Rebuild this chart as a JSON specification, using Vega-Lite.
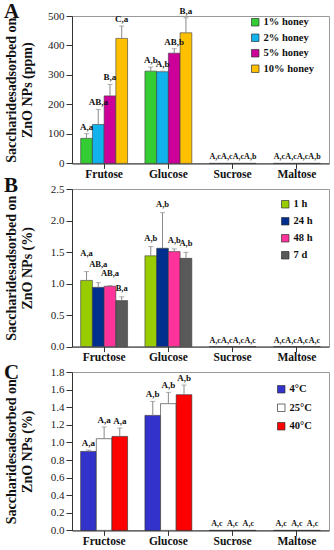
{
  "$schema": "https://vega.github.io/schema/vega-lite/v6.json",
  "padding": {"left": 3, "top": 0, "right": 0, "bottom": 0},
  "bounds": "flush",
  "spacing": 25,
  "background": "white",
  "datasets": {
    "A": [
      {"sugar": "Frutose", "group": "1% honey", "value": 85, "upper": 101, "sig": "A,a"},
      {"sugar": "Frutose", "group": "2% honey", "value": 132, "upper": 183, "sig": "AB,a"},
      {"sugar": "Frutose", "group": "5% honey", "value": 229, "upper": 268, "sig": "B,a"},
      {"sugar": "Frutose", "group": "10% honey", "value": 424, "upper": 466, "sig": "C,a"},
      {"sugar": "Glucose", "group": "1% honey", "value": 313, "upper": 327, "sig": "A,b"},
      {"sugar": "Glucose", "group": "2% honey", "value": 311, "upper": 313, "sig": "A,b"},
      {"sugar": "Glucose", "group": "5% honey", "value": 374, "upper": 389, "sig": "AB,b"},
      {"sugar": "Glucose", "group": "10% honey", "value": 443, "upper": 494, "sig": "B,a"},
      {"sugar": "Sucrose", "group": "1% honey", "value": 0, "upper": 0, "sig": "A,c"},
      {"sugar": "Sucrose", "group": "2% honey", "value": 0, "upper": 0, "sig": "A,c"},
      {"sugar": "Sucrose", "group": "5% honey", "value": 0, "upper": 0, "sig": "A,c"},
      {"sugar": "Sucrose", "group": "10% honey", "value": 0, "upper": 0, "sig": "A,b"},
      {"sugar": "Maltose", "group": "1% honey", "value": 0, "upper": 0, "sig": "A,c"},
      {"sugar": "Maltose", "group": "2% honey", "value": 0, "upper": 0, "sig": "A,c"},
      {"sugar": "Maltose", "group": "5% honey", "value": 0, "upper": 0, "sig": "A,c"},
      {"sugar": "Maltose", "group": "10% honey", "value": 0, "upper": 0, "sig": "A,b"}
    ],
    "B": [
      {"sugar": "Fructose", "group": "1 h", "value": 1.05, "upper": 1.19, "sig": "A,a"},
      {"sugar": "Fructose", "group": "24 h", "value": 0.94, "upper": 1.015, "sig": "AB,a"},
      {"sugar": "Fructose", "group": "48 h", "value": 0.957, "upper": 0.968, "sig": "AB,a"},
      {"sugar": "Fructose", "group": "7 d", "value": 0.73, "upper": 0.79, "sig": "B,a"},
      {"sugar": "Glucose", "group": "1 h", "value": 1.44, "upper": 1.586, "sig": "A,b"},
      {"sugar": "Glucose", "group": "24 h", "value": 1.56, "upper": 2.125, "sig": "A,b"},
      {"sugar": "Glucose", "group": "48 h", "value": 1.507, "upper": 1.55, "sig": "A,b"},
      {"sugar": "Glucose", "group": "7 d", "value": 1.4, "upper": 1.496, "sig": "A,b"},
      {"sugar": "Sucrose", "group": "1 h", "value": 0, "upper": 0, "sig": "A,c"},
      {"sugar": "Sucrose", "group": "24 h", "value": 0, "upper": 0, "sig": "A,c"},
      {"sugar": "Sucrose", "group": "48 h", "value": 0, "upper": 0, "sig": "A,c"},
      {"sugar": "Sucrose", "group": "7 d", "value": 0, "upper": 0, "sig": "A,c"},
      {"sugar": "Maltose", "group": "1 h", "value": 0, "upper": 0, "sig": "A,c"},
      {"sugar": "Maltose", "group": "24 h", "value": 0, "upper": 0, "sig": "A,c"},
      {"sugar": "Maltose", "group": "48 h", "value": 0, "upper": 0, "sig": "A,c"},
      {"sugar": "Maltose", "group": "7 d", "value": 0, "upper": 0, "sig": "A,c"}
    ],
    "C": [
      {"sugar": "Fructose", "group": "4°C", "value": 0.898, "upper": 0.913, "sig": "A,a"},
      {"sugar": "Fructose", "group": "25°C", "value": 1.042, "upper": 1.175, "sig": "A,a"},
      {"sugar": "Fructose", "group": "40°C", "value": 1.068, "upper": 1.163, "sig": "A,a"},
      {"sugar": "Glucose", "group": "4°C", "value": 1.307, "upper": 1.466, "sig": "A,b"},
      {"sugar": "Glucose", "group": "25°C", "value": 1.44, "upper": 1.568, "sig": "A,b"},
      {"sugar": "Glucose", "group": "40°C", "value": 1.542, "upper": 1.652, "sig": "A,b"},
      {"sugar": "Sucrose", "group": "4°C", "value": 0, "upper": 0, "sig": "A,c"},
      {"sugar": "Sucrose", "group": "25°C", "value": 0, "upper": 0, "sig": "A,c"},
      {"sugar": "Sucrose", "group": "40°C", "value": 0, "upper": 0, "sig": "A,c"},
      {"sugar": "Maltose", "group": "4°C", "value": 0, "upper": 0, "sig": "A,c"},
      {"sugar": "Maltose", "group": "25°C", "value": 0, "upper": 0, "sig": "A,c"},
      {"sugar": "Maltose", "group": "40°C", "value": 0, "upper": 0, "sig": "A,c"}
    ]
  },
  "resolve": {"scale": {"color": "independent", "x": "independent", "y": "independent", "xOffset": "independent"}},
  "vconcat": [
    {
      "width": 257, "height": 147.4,
      "title": {"text": "A", "anchor": "start", "frame": "bounds", "baseline": "bottom", "offset": -36},
      "data": {"name": "A"},
      "encoding": {
        "x": {"field": "sugar", "type": "nominal", "sort": ["Frutose", "Glucose", "Sucrose", "Maltose"], "scale": {"paddingInner": 0.27, "paddingOuter": 0.135}, "axis": {"title": null}},
        "xOffset": {"field": "group", "type": "nominal", "sort": ["1% honey", "2% honey", "5% honey", "10% honey"], "scale": {"paddingInner": 0, "paddingOuter": 0}},
        "y": {"field": "value", "type": "quantitative", "scale": {"domain": [0, 500], "nice": false}, "axis": {"title": ["Saccharidesadsorbed on", "ZnO NPs (ppm)"], "values": [0, 100, 200, 300, 400, 500]}}
      },
      "layer": [
        {"mark": {"type": "bar", "stroke": "#3a3a3a", "strokeWidth": 0.6},
         "encoding": {"color": {"field": "group", "type": "nominal", "scale": {"domain": ["1% honey", "2% honey", "5% honey", "10% honey"], "range": ["#33CC33", "#12B2EC", "#CC0099", "#FFC000"]},
           "legend": {"title": null, "orient": "none", "legendX": 178, "legendY": 1, "rowPadding": 4.5}}}},
        {"transform": [{"filter": "datum.upper > datum.value"}], "mark": {"type": "rule", "color": "#8a8a8a", "strokeWidth": 1}, "encoding": {"y2": {"field": "upper"}}},
        {"transform": [{"filter": "datum.upper > datum.value"}], "mark": {"type": "tick", "color": "#8a8a8a", "thickness": 1, "size": 5}, "encoding": {"y": {"field": "upper", "type": "quantitative"}}},
        {"transform": [{"filter": "datum.value > 0"}], "mark": {"type": "text", "baseline": "bottom", "dy": -2, "font": "Liberation Serif", "fontWeight": "bold", "fontSize": 9, "color": "#111"}, "encoding": {"y": {"field": "upper", "type": "quantitative"}, "text": {"field": "sig"}}},
        {"transform": [{"filter": "datum.value == 0"}], "mark": {"type": "text", "baseline": "bottom", "dy": -2, "font": "Liberation Serif", "fontWeight": "bold", "fontSize": 8, "color": "#111"}, "encoding": {"y": {"field": "upper", "type": "quantitative"}, "text": {"field": "sig"}}}
      ]
    },
    {
      "width": 257, "height": 157.6,
      "title": {"text": "B", "anchor": "start", "frame": "bounds", "baseline": "bottom", "offset": -33.5},
      "data": {"name": "B"},
      "encoding": {
        "x": {"field": "sugar", "type": "nominal", "sort": ["Fructose", "Glucose", "Sucrose", "Maltose"], "scale": {"paddingInner": 0.27, "paddingOuter": 0.135}, "axis": {"title": null}},
        "xOffset": {"field": "group", "type": "nominal", "sort": ["1 h", "24 h", "48 h", "7 d"], "scale": {"paddingInner": 0, "paddingOuter": 0}},
        "y": {"field": "value", "type": "quantitative", "scale": {"domain": [0, 2.5], "nice": false}, "axis": {"title": ["Saccharidesadsorbed on", "ZnO NPs (%)"], "values": [0, 0.5, 1, 1.5, 2, 2.5], "format": ".1f"}}
      },
      "layer": [
        {"mark": {"type": "bar", "stroke": "#3a3a3a", "strokeWidth": 0.6},
         "encoding": {"color": {"field": "group", "type": "nominal", "scale": {"domain": ["1 h", "24 h", "48 h", "7 d"], "range": ["#99CC00", "#002F8E", "#FF3399", "#595959"]},
           "legend": {"title": null, "orient": "none", "legendX": 208, "legendY": 10, "rowPadding": 6}}}},
        {"transform": [{"filter": "datum.upper > datum.value"}], "mark": {"type": "rule", "color": "#8a8a8a", "strokeWidth": 1}, "encoding": {"y2": {"field": "upper"}}},
        {"transform": [{"filter": "datum.upper > datum.value"}], "mark": {"type": "tick", "color": "#8a8a8a", "thickness": 1, "size": 5}, "encoding": {"y": {"field": "upper", "type": "quantitative"}}},
        {"transform": [{"filter": "datum.value > 0 && !(datum.sugar == 'Fructose' && datum.group != '7 d')"}], "mark": {"type": "text", "baseline": "bottom", "dy": -4, "font": "Liberation Serif", "fontWeight": "bold", "fontSize": 8.5, "color": "#111"}, "encoding": {"y": {"field": "upper", "type": "quantitative"}, "text": {"field": "sig"}}},
        {"transform": [{"filter": "datum.sugar == 'Fructose' && (datum.group == '1 h' || datum.group == '24 h')"}], "mark": {"type": "text", "baseline": "bottom", "dy": -14, "font": "Liberation Serif", "fontWeight": "bold", "fontSize": 8.5, "color": "#111"}, "encoding": {"y": {"field": "upper", "type": "quantitative"}, "text": {"field": "sig"}}},
        {"transform": [{"filter": "datum.sugar == 'Fructose' && datum.group == '48 h'"}], "mark": {"type": "text", "baseline": "bottom", "dy": -8, "font": "Liberation Serif", "fontWeight": "bold", "fontSize": 8.5, "color": "#111"}, "encoding": {"y": {"field": "upper", "type": "quantitative"}, "text": {"field": "sig"}}},
        {"transform": [{"filter": "datum.value == 0"}], "mark": {"type": "text", "baseline": "bottom", "dy": -2, "font": "Liberation Serif", "fontWeight": "bold", "fontSize": 8, "color": "#111"}, "encoding": {"y": {"field": "upper", "type": "quantitative"}, "text": {"field": "sig"}}}
      ]
    },
    {
      "width": 257, "height": 158.4,
      "title": {"text": "C", "anchor": "start", "frame": "bounds", "baseline": "bottom", "offset": -38},
      "data": {"name": "C"},
      "encoding": {
        "x": {"field": "sugar", "type": "nominal", "sort": ["Fructose", "Glucose", "Sucrose", "Maltose"], "scale": {"paddingInner": 0.27, "paddingOuter": 0.135}, "axis": {"title": null}},
        "xOffset": {"field": "group", "type": "nominal", "sort": ["4°C", "25°C", "40°C"], "scale": {"paddingInner": 0, "paddingOuter": 0}},
        "y": {"field": "value", "type": "quantitative", "scale": {"domain": [0, 1.8], "nice": false}, "axis": {"title": ["Saccharidesadsorbed on", "ZnO NPs (%)"], "values": [0, 0.2, 0.4, 0.6, 0.8, 1, 1.2, 1.4, 1.6, 1.8], "format": ".1f"}}
      },
      "layer": [
        {"mark": {"type": "bar", "stroke": "#2a2a2a", "strokeWidth": 0.6},
         "encoding": {"color": {"field": "group", "type": "nominal", "scale": {"domain": ["4°C", "25°C", "40°C"], "range": ["#3333CC", "#FFFFFF", "#FF0000"]},
           "legend": {"title": null, "orient": "none", "legendX": 204, "legendY": 12, "rowPadding": 7.5}}}},
        {"transform": [{"filter": "datum.upper > datum.value"}], "mark": {"type": "rule", "color": "#8a8a8a", "strokeWidth": 1}, "encoding": {"y2": {"field": "upper"}}},
        {"transform": [{"filter": "datum.upper > datum.value"}], "mark": {"type": "tick", "color": "#8a8a8a", "thickness": 1, "size": 5}, "encoding": {"y": {"field": "upper", "type": "quantitative"}}},
        {"transform": [{"filter": "datum.value > 0"}], "mark": {"type": "text", "baseline": "bottom", "dy": -2, "font": "Liberation Serif", "fontWeight": "bold", "fontSize": 9, "color": "#111"}, "encoding": {"y": {"field": "upper", "type": "quantitative"}, "text": {"field": "sig"}}},
        {"transform": [{"filter": "datum.value == 0"}], "mark": {"type": "text", "baseline": "bottom", "dy": -2, "font": "Liberation Serif", "fontWeight": "bold", "fontSize": 8, "color": "#111"}, "encoding": {"y": {"field": "upper", "type": "quantitative"}, "text": {"field": "sig"}}}
      ]
    }
  ],
  "config": {
    "view": {"stroke": "#9a9a9a", "strokeWidth": 1},
    "title": {"font": "Liberation Serif", "fontWeight": "bold", "fontSize": 21, "color": "#111"},
    "axisX": {"labelAngle": 0, "labelFont": "Liberation Serif", "labelFontWeight": "bold", "labelFontSize": 11.5, "labelColor": "#111", "domainColor": "#333", "tickColor": "#333", "tickSize": 5, "labelPadding": 0, "tickOffset": 32.125, "grid": false},
    "axisY": {"grid": false, "labelFont": "Liberation Serif", "labelFontSize": 11, "labelColor": "#222", "tickSize": 6, "labelPadding": 2, "domainColor": "#333", "tickColor": "#333", "titleFont": "Liberation Serif", "titleFontWeight": "bold", "titleFontSize": 14, "titleLineHeight": 16, "titleColor": "#111", "titlePadding": 10, "minExtent": 28, "maxExtent": 28},
    "legend": {"labelFont": "Liberation Serif", "labelFontWeight": "bold", "labelFontSize": 10.5, "labelColor": "#111", "symbolType": "square", "symbolSize": 56, "symbolStrokeColor": "#333", "symbolStrokeWidth": 0.7, "labelOffset": 3, "padding": 0}
  }
}
